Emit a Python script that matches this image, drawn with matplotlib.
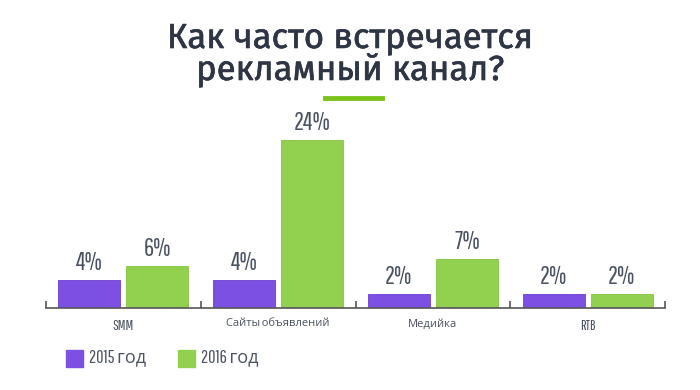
import matplotlib
matplotlib.use('Agg')
import matplotlib.pyplot as plt
import matplotlib.patheffects as pe
import numpy as np
from matplotlib.patches import Rectangle
from matplotlib.lines import Line2D

categories = ["SMM", "Сайты объявлений", "Медийка", "RTB"]
values_2015 = [4, 4, 2, 2]
values_2016 = [6, 24, 7, 2]
series_names = ["2015 год", "2016 год"]

PURPLE = "#7B50E3"
GREEN = "#92D050"
TEXT = "#2E3545"
LABEL = "#4A5263"
NARROW = ["Pathway Gothic One", "Open Sans", "DejaVu Sans"]

fig = plt.figure(figsize=(7, 3.9), dpi=100)
ax = fig.add_axes([46 / 700, 82 / 390, 619 / 700, 182 / 390])

x = np.arange(len(categories))
w = 0.4
ax.bar(x - 0.22, values_2015, w, color=PURPLE, edgecolor="#6A3FD0", linewidth=0.6)
ax.bar(x + 0.22, values_2016, w, color=GREEN, edgecolor="#84C440", linewidth=0.6)

for xi, v in zip(x, values_2015):
    ax.text(xi - 0.22, v + 0.7, f"{v}%", ha="center", va="bottom",
            family=NARROW, fontsize=18, color=LABEL)
for xi, v in zip(x, values_2016):
    ax.text(xi + 0.22, v + 0.7, f"{v}%", ha="center", va="bottom",
            family=NARROW, fontsize=18, color=LABEL)

ax.set_xlim(-0.5, 3.5)
ax.set_ylim(0, 26)
for s in ["top", "right", "left"]:
    ax.spines[s].set_visible(False)
ax.spines["bottom"].set_color("#555555")
ax.spines["bottom"].set_linewidth(1.2)
ax.set_yticks([])
ax.set_xticks(np.arange(-0.5, 4.0, 1.0), labels=[])
ax.tick_params(axis="x", length=5, width=1.2, color="#555555", direction="in")
for xi, c in zip(x, categories):
    size = 10.5 if c.isascii() else 8
    ax.text(xi, -1.5, c, ha="center", va="top", fontsize=size, color=LABEL, family=NARROW)

# title, regular weight thickened a little
thick = [pe.withStroke(linewidth=0.45, foreground=TEXT)]
fig.text(0.5, 1 - 48 / 390, "Как часто встречается", ha="center", va="baseline",
         fontsize=25, color=TEXT, family=["Fira Sans", "DejaVu Sans"], path_effects=thick)
fig.text(0.5, 1 - 80 / 390, "рекламный канал?", ha="center", va="baseline",
         fontsize=25, color=TEXT, family=["Fira Sans", "DejaVu Sans"], path_effects=thick)
fig.add_artist(Line2D([325 / 700, 382 / 700], [1 - 98 / 390, 1 - 98 / 390],
                      color="#7DC21E", linewidth=3.5))

# legend
for i, (name, col) in enumerate(zip(series_names, [PURPLE, GREEN])):
    x0 = (66 + i * 112) / 700
    fig.add_artist(Rectangle((x0, 1 - 367 / 390), 17 / 700, 17 / 390,
                             transform=fig.transFigure, color=col))
    fig.text(x0 + 23 / 700, 1 - 358 / 390, name, ha="left", va="center",
             fontsize=13, color=LABEL, family=NARROW)

fig.savefig("out.png", dpi=100, facecolor="white")
